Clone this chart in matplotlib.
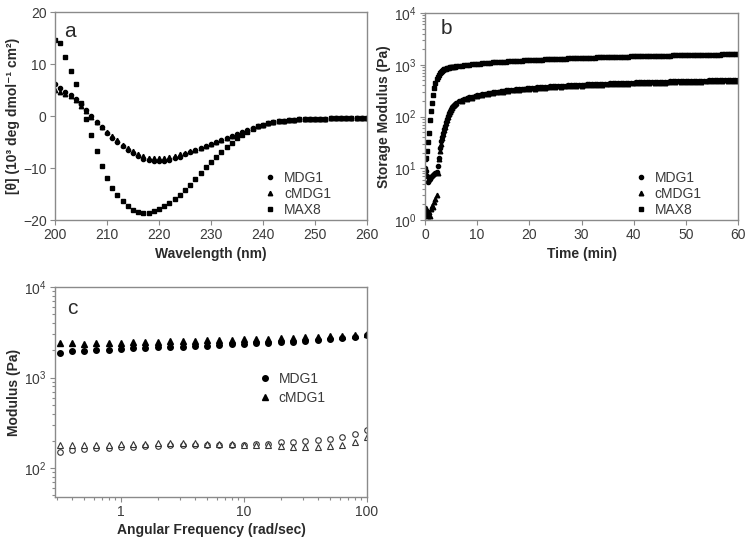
import matplotlib
matplotlib.use('Agg')
import matplotlib.pyplot as plt
import numpy as np

plt.rcParams['font.family'] = ['Liberation Sans', 'DejaVu Sans']
plt.rcParams['font.size'] = 9
plt.rcParams['axes.edgecolor'] = '#8a8a8a'
plt.rcParams['axes.linewidth'] = 1.0
plt.rcParams['xtick.color'] = '#8a8a8a'
plt.rcParams['ytick.color'] = '#8a8a8a'
plt.rcParams['xtick.labelcolor'] = '#3a3a3a'
plt.rcParams['ytick.labelcolor'] = '#3a3a3a'

# ---- panel a: CD spectra ----
wavelength = np.arange(200, 261)
cd_mdg1 = [6.2, 5.4, 4.6, 4.0, 3.2, 2.3, 1.2, 0.0, -1.1, -2.2,
           -3.2, -4.2, -5.0, -5.8, -6.5, -7.2, -7.7, -8.2, -8.5, -8.7,
           -8.7, -8.6, -8.4, -8.1, -7.8, -7.4, -7.0, -6.6, -6.2, -5.8,
           -5.4, -5.0, -4.6, -4.2, -3.8, -3.4, -3.0, -2.6, -2.3, -2.0,
           -1.7, -1.4, -1.2, -1.0, -0.9, -0.8, -0.7, -0.6, -0.6, -0.5,
           -0.5, -0.5, -0.5, -0.4, -0.4, -0.4, -0.4, -0.4, -0.4, -0.4,
           -0.4]
cd_cmdg1 = [5.0, 4.7, 4.2, 3.8, 3.0, 2.0, 1.0, -0.1, -1.1, -2.1,
            -3.0, -3.9, -4.7, -5.5, -6.2, -6.8, -7.3, -7.7, -8.0, -8.1,
            -8.1, -8.0, -7.9, -7.7, -7.4, -7.1, -6.8, -6.5, -6.1, -5.8,
            -5.4, -5.0, -4.6, -4.2, -3.8, -3.4, -3.0, -2.6, -2.3, -2.0,
            -1.7, -1.4, -1.2, -1.0, -0.9, -0.8, -0.7, -0.6, -0.6, -0.5,
            -0.5, -0.5, -0.5, -0.4, -0.4, -0.4, -0.4, -0.4, -0.4, -0.4,
            -0.4]
cd_max8 = [14.7, 14.0, 11.4, 8.7, 6.1, 2.6, -0.5, -3.7, -6.8, -9.6,
           -12.0, -13.8, -15.2, -16.4, -17.4, -18.1, -18.5, -18.7, -18.6, -18.3,
           -17.9, -17.3, -16.7, -16.0, -15.1, -14.2, -13.2, -12.1, -11.0, -9.9,
           -8.9, -7.9, -6.9, -6.0, -5.1, -4.3, -3.6, -3.0, -2.5, -2.0,
           -1.7, -1.4, -1.2, -1.0, -0.9, -0.8, -0.7, -0.6, -0.6, -0.5,
           -0.5, -0.5, -0.5, -0.4, -0.4, -0.4, -0.4, -0.4, -0.4, -0.4,
           -0.4]

# ---- panel b: time sweep ----
t_early = np.round(np.arange(0, 6.01, 0.2), 1)
t_late = np.arange(6.5, 60.01, 0.5)
t_cm_late = np.arange(7, 61, 1)

g_max8 = [15, 16, 22, 32, 48, 85, 125, 185, 265, 350, 440, 520, 590, 640, 690, 730,
          765, 790, 812, 830, 846, 858, 869, 879, 888, 896, 904, 911, 918, 924, 930,
          938, 954, 970, 986, 1000, 1014, 1027, 1040, 1052, 1064,
          1075, 1086, 1097, 1107, 1117, 1127, 1137, 1146, 1155, 1164,
          1173, 1181, 1189, 1197, 1205, 1213, 1221, 1228, 1235, 1242,
          1249, 1256, 1263, 1270, 1276, 1283, 1289, 1296, 1302, 1308,
          1314, 1320, 1326, 1331, 1337, 1342, 1348, 1353, 1359, 1364,
          1369, 1375, 1380, 1385, 1390, 1395, 1400, 1404, 1409, 1414,
          1419, 1423, 1428, 1432, 1437, 1441, 1446, 1450, 1455, 1459,
          1463, 1467, 1471, 1476, 1480, 1484, 1488, 1492, 1496, 1500,
          1504, 1507, 1511, 1515, 1519, 1523, 1526, 1530, 1534, 1537,
          1541, 1544, 1548, 1551, 1555, 1558, 1562, 1565, 1569, 1572,
          1576, 1579, 1582, 1586, 1589, 1592, 1595, 1598]
g_mdg1 = [10, 9, 7, 5.5, 5.8, 6.3, 6.8, 7.2, 7.4, 7.8, 8.0, 8.5, 11, 16, 25, 33,
          40, 48, 57, 66, 78, 90, 102, 115, 127, 139, 150, 160, 169, 177, 185,
          195, 205, 215, 224, 233, 241, 249, 256, 263, 270,
          276, 282, 288, 293, 299, 304, 309, 314, 318, 323,
          327, 331, 335, 339, 343, 347, 351, 354, 358, 361,
          365, 368, 371, 374, 377, 380, 383, 386, 389, 392,
          394, 397, 400, 402, 405, 407, 410, 412, 414, 417,
          419, 421, 423, 426, 428, 430, 432, 434, 436, 438,
          440, 442, 444, 446, 447, 449, 451, 453, 455, 456,
          458, 460, 461, 463, 465, 466, 468, 470, 471, 473,
          474, 476, 477, 479, 480, 482, 483, 485, 486, 487,
          489, 490, 491, 493, 494, 495, 497, 498, 499, 501,
          502, 503, 504, 506, 507, 508, 509, 510]
g_cmdg1 = [1.3, 1.7, 1.5, 1.2, 1.4, 1.2, 1.6, 1.9, 1.8, 2.2, 2.6, 3.0, 8, 15, 22, 30,
           38, 46, 55, 64, 75, 87, 99, 112, 124, 136, 148, 158, 166, 173, 180,
           198, 216, 232, 246, 259, 271, 282, 292, 302, 310,
           318, 326, 333, 340, 347, 353, 359, 365, 370, 376,
           381, 386, 391, 395, 400, 404, 408, 412, 416, 420,
           424, 428, 431, 435, 438, 441, 444, 447, 450, 453,
           456, 459, 462, 465, 467, 470, 472, 475, 477, 480,
           482, 484, 487, 489]

t_mdg1 = np.concatenate([t_early, t_late])
t_cmdg1 = np.concatenate([t_early, t_cm_late])

# ---- panel c: frequency sweep ----
freq = [0.316, 0.398, 0.501, 0.631, 0.794, 1.0, 1.26, 1.58, 2.0, 2.51, 3.16, 3.98, 5.01,
        6.31, 7.94, 10.0, 12.6, 15.8, 20.0, 25.1, 31.6, 39.8, 50.1, 63.1, 79.4, 100.0]
gp_mdg1 = [1880, 1950, 1960, 2000, 2040, 2050, 2100, 2130, 2150, 2170, 2200, 2230, 2260,
           2290, 2320, 2350, 2380, 2410, 2450, 2490, 2530, 2580, 2640, 2720, 2820, 2980]
gp_cmdg1 = [2420, 2380, 2370, 2390, 2400, 2430, 2450, 2470, 2490, 2510, 2530, 2560, 2580,
            2600, 2620, 2650, 2670, 2700, 2730, 2760, 2790, 2820, 2860, 2900, 2960, 3050]
gpp_mdg1 = [152, 160, 162, 165, 168, 170, 172, 174, 176, 178, 179, 180, 181,
            181, 181, 182, 183, 185, 192, 196, 200, 205, 212, 222, 238, 262]
gpp_cmdg1 = [180, 178, 178, 180, 182, 184, 186, 187, 188, 188, 188, 188, 186,
             184, 183, 182, 180, 178, 174, 172, 172, 172, 174, 180, 192, 222]

fig = plt.figure(figsize=(7.5, 5.37), dpi=100)
ax_a = fig.add_axes([0.0733, 0.5903, 0.416, 0.3873])
ax_b = fig.add_axes([0.5667, 0.5903, 0.4173, 0.3855])
ax_c = fig.add_axes([0.0733, 0.0745, 0.416, 0.391])

bold = dict(fontsize=10, fontweight='bold', color='#2a2a2a')

# panel a
ax_a.plot(wavelength, cd_max8, 's', color='k', ms=3.0, ls='none', label='MAX8')
ax_a.plot(wavelength, cd_mdg1, 'o', color='k', ms=3.0, ls='none', label='MDG1')
ax_a.plot(wavelength, cd_cmdg1, '^', color='k', ms=3.2, ls='none', label='cMDG1')
ax_a.set_xlim(200, 260)
ax_a.set_ylim(-20, 20)
ax_a.set_xticks(range(200, 261, 10))
ax_a.set_yticks([-20, -10, 0, 10, 20])
ax_a.set_xlabel('Wavelength (nm)', labelpad=3, **bold)
ax_a.set_ylabel('[θ] (10³ deg dmol⁻¹ cm²)', labelpad=2, **bold)
ax_a.text(0.048, 0.905, 'a', transform=ax_a.transAxes, fontsize=15,
          ha='center', va='center', color='#2a2a2a')
h, l = ax_a.get_legend_handles_labels()
ax_a.legend([h[1], h[2], h[0]], [l[1], l[2], l[0]], loc='upper left',
            bbox_to_anchor=(0.645, 0.27), frameon=False, borderpad=0,
            handlelength=1, handletextpad=0.5, labelspacing=0.15,
            fontsize=10, labelcolor='#3a3a3a')

# panel b
ax_b.semilogy(t_mdg1, g_max8, 's', color='k', ms=3.0, ls='none', label='MAX8')
ax_b.semilogy(t_mdg1, g_mdg1, 'o', color='k', ms=3.0, ls='none', label='MDG1')
ax_b.semilogy(t_cmdg1, g_cmdg1, '^', color='k', ms=3.3, ls='none', label='cMDG1')
ax_b.set_xlim(0, 60)
ax_b.set_ylim(1, 1e4)
ax_b.set_xticks(range(0, 61, 10))
ax_b.set_xlabel('Time (min)', labelpad=3, **bold)
ax_b.set_ylabel('Storage Modulus (Pa)', labelpad=2, **bold)
ax_b.text(0.07, 0.927, 'b', transform=ax_b.transAxes, fontsize=15,
          ha='center', va='center', color='#2a2a2a')
h, l = ax_b.get_legend_handles_labels()
ax_b.legend([h[1], h[2], h[0]], [l[1], l[2], l[0]], loc='upper left',
            bbox_to_anchor=(0.645, 0.27), frameon=False, borderpad=0,
            handlelength=1, handletextpad=0.5, labelspacing=0.15,
            fontsize=10, labelcolor='#3a3a3a')

# panel c
ax_c.loglog(freq, gpp_mdg1, 'o', mfc='white', mec='#333333', mew=0.8, ms=4, ls='none')
ax_c.loglog(freq, gpp_cmdg1, '^', mfc='white', mec='#333333', mew=0.8, ms=4.3, ls='none')
ax_c.loglog(freq, gp_mdg1, 'o', color='k', ms=4, ls='none', label='MDG1')
ax_c.loglog(freq, gp_cmdg1, '^', color='k', ms=4.3, ls='none', label='cMDG1')
ax_c.set_xlim(0.29, 100)
ax_c.set_ylim(48, 1e4)
ax_c.set_xticks([1, 10, 100])
ax_c.set_xticklabels(['1', '10', '100'])
ax_c.set_xlabel('Angular Frequency (rad/sec)', labelpad=3, **bold)
ax_c.set_ylabel('Modulus (Pa)', labelpad=2, **bold)
ax_c.text(0.054, 0.9, 'c', transform=ax_c.transAxes, fontsize=15,
          ha='center', va='center', color='#2a2a2a')
ax_c.legend(loc='upper left', bbox_to_anchor=(0.628, 0.63), frameon=False,
            borderpad=0, handlelength=1, handletextpad=0.5, labelspacing=0.4,
            fontsize=10, labelcolor='#3a3a3a')

for ax in (ax_a, ax_b, ax_c):
    ax.tick_params(which='both', direction='out', width=0.8)
    ax.tick_params(which='major', length=3.5, labelsize=10, pad=2.5)
    ax.tick_params(which='minor', length=2)

fig.savefig('out.png', dpi=100)
